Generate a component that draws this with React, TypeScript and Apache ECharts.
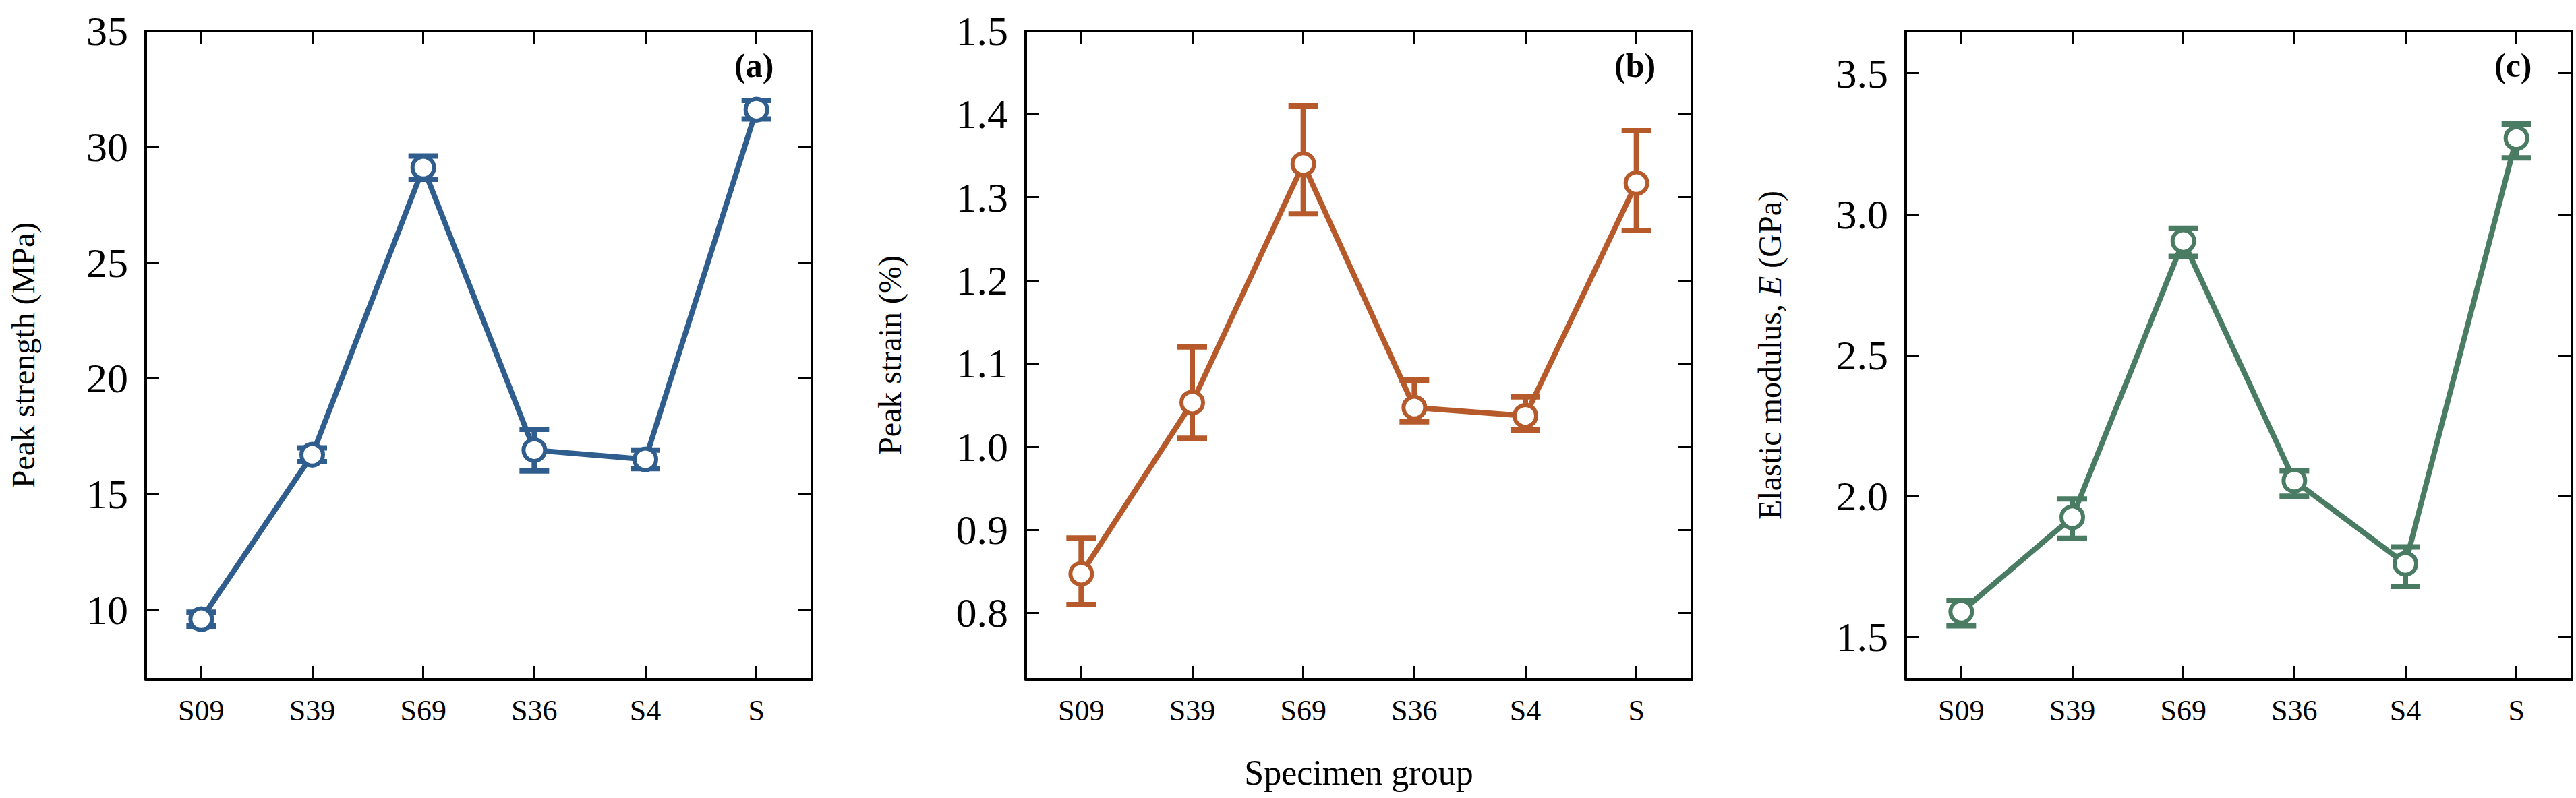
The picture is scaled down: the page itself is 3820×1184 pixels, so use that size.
import { useEffect, useRef } from 'react';
import * as echarts from 'echarts';

const groups = ['S09', 'S39', 'S69', 'S36', 'S4', 'S'];

// (a) peak strength, MPa
const strengthMean = [9.6, 16.7, 29.1, 16.9, 16.5, 31.6];
const strengthLow = [9.3, 16.4, 28.6, 16.0, 16.1, 31.2];
const strengthHigh = [9.9, 17.0, 29.6, 17.8, 16.9, 32.0];
const strengthTicks = [10, 15, 20, 25, 30, 35];

// (b) peak strain, %
const strainMean = [0.847, 1.053, 1.34, 1.047, 1.037, 1.317];
const strainLow = [0.81, 1.01, 1.28, 1.03, 1.02, 1.26];
const strainHigh = [0.89, 1.12, 1.41, 1.08, 1.06, 1.38];
const strainTicks = [0.8, 0.9, 1.0, 1.1, 1.2, 1.3, 1.4, 1.5];

// (c) elastic modulus, GPa
const modulusMean = [1.59, 1.925, 2.905, 2.055, 1.76, 3.27];
const modulusLow = [1.54, 1.85, 2.85, 2.0, 1.68, 3.2];
const modulusHigh = [1.63, 1.99, 2.95, 2.09, 1.82, 3.32];
const modulusTicks = [1.5, 2.0, 2.5, 3.0, 3.5];

const FONT = '"Liberation Serif", "Times New Roman", serif';

interface Panel {
  left: number;
  color: string;
  mean: number[];
  low: number[];
  high: number[];
  ticks: number[];
  min: number;
  max: number;
  name: string;
  nameGap: number;
  digits: number;
  letter: string;
}

const panels: Panel[] = [
  { left: 216, color: '#2f5e8e', mean: strengthMean, low: strengthLow, high: strengthHigh, ticks: strengthTicks, min: 7, max: 35, name: 'Peak strength (MPa)', nameGap: 158, digits: 0, letter: '(a)' },
  { left: 1521, color: '#b65a2b', mean: strainMean, low: strainLow, high: strainHigh, ticks: strainTicks, min: 0.72, max: 1.5, name: 'Peak strain (%)', nameGap: 178, digits: 1, letter: '(b)' },
  { left: 2826, color: '#4a7c63', mean: modulusMean, low: modulusLow, high: modulusHigh, ticks: modulusTicks, min: 1.35, max: 3.65, name: 'Elastic modulus, {i|E} (GPa)', nameGap: 178, digits: 1, letter: '(c)' },
];

const TOP = 46;
const WIDTH = 988;
const HEIGHT = 962;

function buildOption(): echarts.EChartsOption {
  const grid: any[] = [];
  const xAxis: any[] = [];
  const yAxis: any[] = [];
  const series: any[] = [];
  const graphic: any[] = [];

  panels.forEach((p, i) => {
    grid.push({ left: p.left, top: TOP, width: WIDTH, height: HEIGHT });
    const axisLine = { show: true, lineStyle: { color: '#000', width: 4 } };
    const tick = { show: true, inside: true, length: 20, alignWithLabel: true, lineStyle: { color: '#000', width: 3 } };
    xAxis.push({
      type: 'category', gridIndex: i, data: groups, boundaryGap: true, position: 'bottom',
      axisLine, axisTick: tick,
      axisLabel: { color: '#000', fontFamily: FONT, fontSize: 44, margin: 24 },
      name: i === 1 ? 'Specimen group' : '', nameLocation: 'middle', nameGap: 112,
      nameTextStyle: { color: '#000', fontFamily: FONT, fontSize: 52 },
    });
    xAxis.push({
      type: 'category', gridIndex: i, data: groups, boundaryGap: true, position: 'top',
      axisLine, axisTick: tick, axisLabel: { show: false },
    });
    const yTick = { show: true, inside: true, length: 20, customValues: p.ticks, lineStyle: { color: '#000', width: 3 } };
    yAxis.push({
      type: 'value', gridIndex: i, min: p.min, max: p.max, position: 'left',
      axisLine, axisTick: yTick, splitLine: { show: false },
      axisLabel: {
        color: '#000', fontFamily: FONT, fontSize: 62, margin: 26, customValues: p.ticks,
        formatter: (v: number) => v.toFixed(p.digits),
      },
      name: p.name, nameLocation: 'middle', nameGap: p.nameGap,
      nameTextStyle: {
        color: '#000', fontFamily: FONT, fontSize: 48,
        rich: { i: { fontStyle: 'italic', fontFamily: FONT, fontSize: 48, color: '#000' } },
      },
    });
    yAxis.push({
      type: 'value', gridIndex: i, min: p.min, max: p.max, position: 'right',
      axisLine, axisTick: yTick, axisLabel: { show: false }, splitLine: { show: false },
    });

    series.push({
      type: 'custom', xAxisIndex: i * 2, yAxisIndex: i * 2, z: 3,
      data: groups.map((_, k) => [k, p.low[k], p.high[k]]),
      encode: { x: 0, y: [1, 2] },
      renderItem: (_params: any, api: any) => {
        const x = api.value(0);
        const lo = api.coord([x, api.value(1)]);
        const hi = api.coord([x, api.value(2)]);
        const hw = 22;
        const style = { stroke: p.color, lineWidth: 8 };
        return {
          type: 'group',
          children: [
            { type: 'line', shape: { x1: lo[0], y1: lo[1], x2: hi[0], y2: hi[1] }, style },
            { type: 'line', shape: { x1: lo[0] - hw, y1: lo[1], x2: lo[0] + hw, y2: lo[1] }, style },
            { type: 'line', shape: { x1: hi[0] - hw, y1: hi[1], x2: hi[0] + hw, y2: hi[1] }, style },
          ],
        };
      },
    });
    series.push({
      type: 'line', xAxisIndex: i * 2, yAxisIndex: i * 2, z: 4,
      data: p.mean,
      lineStyle: { color: p.color, width: 8 },
      symbol: 'circle', symbolSize: 32,
      itemStyle: { color: '#fff', borderColor: p.color, borderWidth: 6 },
    });

    graphic.push({
      type: 'text', left: p.left + WIDTH - 115, top: 72,
      style: { text: p.letter, fontFamily: FONT, fontSize: 50, fontWeight: 'bold', fill: '#000' },
    });
  });

  return { animation: false, backgroundColor: '#fff', grid, xAxis, yAxis, series, graphic };
}

export default function App() {
  const ref = useRef<HTMLDivElement>(null);

  useEffect(() => {
    document.body.style.margin = '0';
    if (!ref.current) return;
    const chart = echarts.init(ref.current, undefined, { renderer: 'svg' });
    chart.setOption(buildOption());
    return () => chart.dispose();
  }, []);

  return <div ref={ref} style={{ width: 3820, height: 1184 }} />;
}
